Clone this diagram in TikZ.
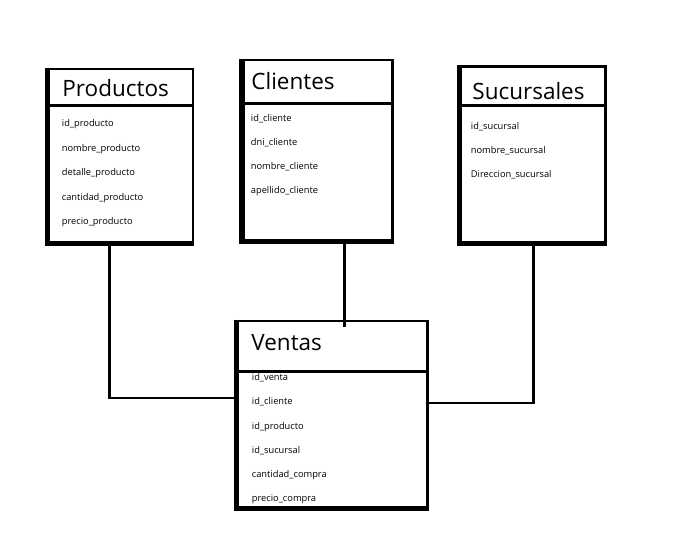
\documentclass[tikz,border=0pt]{standalone}
\usepackage{fontspec}
\setmainfont{Open Sans}
\usetikzlibrary{positioning}

\tikzset{
  tabla/.style={draw, line width=2.7pt, inner sep=0pt},
  grueso/.style={line width=5pt},
  division/.style={line width=2.7pt},
  titulo/.style={anchor=base west, inner sep=0pt, font=\fontsize{22.5}{27}\selectfont},
  campo/.style={anchor=base west, inner sep=0pt, font=\fontsize{9.3}{11}\selectfont},
  enlace/.style={draw, line width=2.6pt}
}

\begin{document}
\begin{tikzpicture}[x=1pt,y=-1pt]
\useasboundingbox (0,0) rectangle (686,536);

% tablas
\node[tabla, minimum width=144, minimum height=173] (prod) at (121,155.4) {};
\node[tabla, minimum width=149, minimum height=180.5] (cli) at (317.8,150.2) {};
\node[tabla, minimum width=144.8, minimum height=175.3] (suc) at (533,154.3) {};
\node[tabla, minimum width=190, minimum height=186] (ven) at (332.5,414) {};

% titulos
\node[titulo] (prod-t) at (62.2,96) {Productos};
\node[titulo] (cli-t) at (251.2,89) {Clientes};
\node[titulo] (suc-t) at (472.2,99) {Sucursales};
\node[titulo] (ven-t) at (251.2,350.7) {Ventas};

\draw[division] (prod.west |- 0,105.8) -- (prod.east |- 0,105.8);
\draw[division] (cli.west |- 0,103.3) -- (cli.east |- 0,103.3);
\draw[division] (suc.west |- 0,105.8) -- (suc.east |- 0,105.8);
\draw[division] (ven.west |- 0,371.3) -- (ven.east |- 0,371.3);

% campos
\foreach \t [count=\i] in {id\_producto, nombre\_producto, detalle\_producto, cantidad\_producto, precio\_producto}
  \node[campo] (prod-\i) at (61.7,{126.5+24.5*(\i-1)}) {\t};
\foreach \t [count=\i] in {id\_cliente, dni\_cliente, nombre\_cliente, apellido\_cliente}
  \node[campo] (cli-\i) at (250.7,{121+24*(\i-1)}) {\t};
\foreach \t [count=\i] in {id\_sucursal, nombre\_sucursal, Direccion\_sucursal}
  \node[campo] (suc-\i) at (470.7,{129+24.2*(\i-1)}) {\t};
\foreach \t [count=\i] in {id\_venta, id\_cliente, id\_producto, id\_sucursal, cantidad\_compra, precio\_compra}
  \node[campo] (ven-\i) at (251.7,{380.7+24.2*(\i-1)}) {\t};

% bordes gruesos
\draw[grueso] (prod.north west) |- (prod.south east);
\draw[grueso] (cli.north west) |- (cli.south east);
\draw[grueso] (suc.north west) |- (suc.south east);
\draw[grueso] (ven.north west) |- (ven.south east);

% relaciones
\coordinate (k1) at (109.5,398);
\coordinate (k2) at (344.2,327);
\coordinate (k3) at (533.3,403);
\path[enlace] (prod.south -| k1) -- (k1) -- (k1 -| ven.west);
\path[enlace] (cli.south -| k2) -- (k2);
\path[enlace] (suc.south -| k3) -- (k3) -- (k3 -| ven.east);
\end{tikzpicture}
\end{document}
